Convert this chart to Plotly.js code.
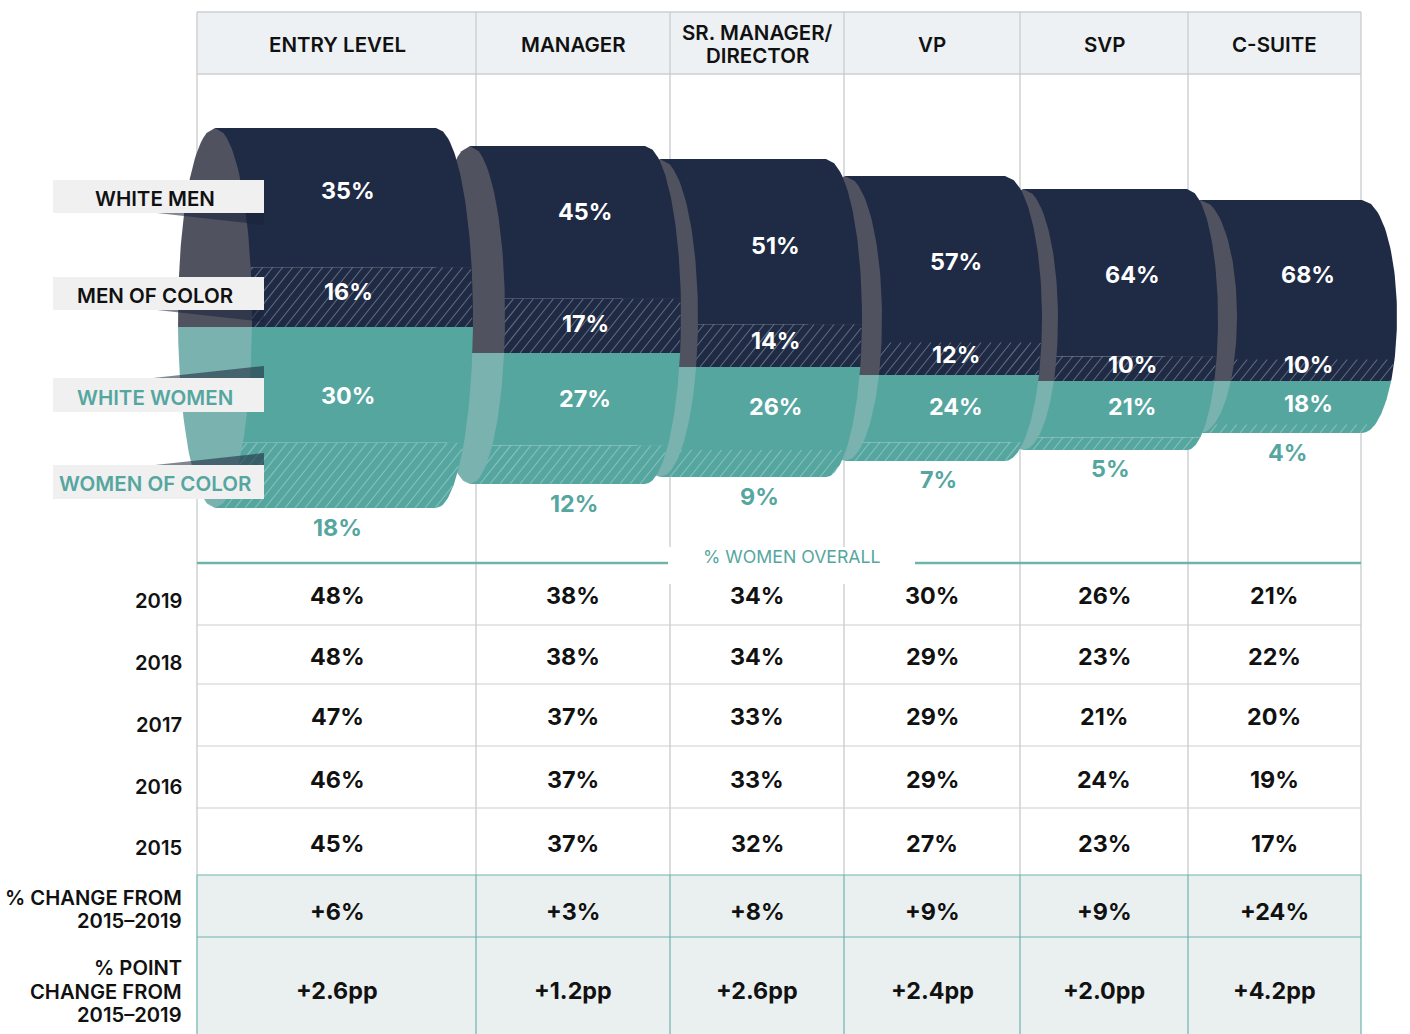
<!DOCTYPE html>
<html>
<head>
<meta charset="utf-8">
<script src="https://cdn.plot.ly/plotly-3.0.1.min.js"></script>
<style>html,body{margin:0;padding:0;background:#fff}#chart{width:1410px;height:1034px}</style>
</head>
<body>
<div id="chart"></div>
<script>
// ---- values ----
const stages = ['ENTRY LEVEL','MANAGER','SR. MANAGER/<br>DIRECTOR','VP','SVP','C-SUITE'];
const whiteMen     = [35,45,51,57,64,68];
const menOfColor   = [16,17,14,12,10,10];
const whiteWomen   = [30,27,26,24,21,18];
const womenOfColor = [18,12, 9, 7, 5, 4];
const rowYears = ['2019','2018','2017','2016','2015'];
const women2019 = [48,38,34,30,26,21];
const women2018 = [48,38,34,29,23,22];
const women2017 = [47,37,33,29,21,20];
const women2016 = [46,37,33,29,24,19];
const women2015 = [45,37,32,27,23,17];
const changePct = [6,3,8,9,9,24];
const changePP  = [2.6,1.2,2.6,2.4,2.0,4.2];
const groupNames = ['WHITE MEN','MEN OF COLOR','WHITE WOMEN','WOMEN OF COLOR'];

// ---- layout of the drawing (axis units equal page pixels) ----
const gridX = [197,476,670,844,1020,1188,1361];
const colX  = [337,573,757,932,1104,1274];
const cyl = [
  {cL:215, cR:436, rL:37, rR:37, top:128, split:327, bot:508},
  {cL:470, cR:645, rL:35, rR:36, top:146, split:353, bot:484},
  {cL:660, cR:826, rL:38, rR:36, top:159, split:367, bot:477},
  {cL:845, cR:1005,rL:37, rR:37, top:176, split:375, bot:461},
  {cL:1023,cR:1187,rL:35, rR:31, top:189, split:381, bot:450},
  {cL:1200,cR:1362,rL:37, rR:35, top:200, split:381, bot:433}
];
const innerX = [348,585,775,956,1132,1308];
const outerX = [337,574,759,938,1110,1287];
const labelWM = [190,211,245,261,274,274];
const labelMC = [291,323,340,354,364,364];
const labelWW = [395,398,406,406,406,403];
const labelWC = [527,503,496,479,468,452];
const rowValueY = [595,656,716,779,843];
const rowLabelY = [600,662,724,786,847];
const rowLines  = [625,684,746,808];
const hatchWeight = 0.94;  // hatched bands are drawn slightly flatter than the solid ones

const NAVY='#1f2a45', NAVY_CAP='#50535f', TEAL='#56a6a0', TEAL_CAP='#79b2af';
const GRID='#cdced0', TEALLINE='#6fb3ad';
const FONT='Inter, "Open Sans", sans-serif';

function edge(c, r, cy, ry, y){
  const t = (y-cy)/ry;
  return c + r*Math.sqrt(Math.max(0,1-t*t));
}
function sampleYs(y0,y1){
  const n=40, ys=[];
  for(let i=0;i<=n;i++) ys.push(y0+(y1-y0)*i/n);
  return ys;
}
function bodyTrace(g,y0,y1,color){
  const cy=(g.top+g.bot)/2, ry=(g.bot-g.top)/2, ys=sampleYs(y0,y1);
  const xs=[g.cL], yy=[y0];
  ys.forEach(y=>{xs.push(edge(g.cR,g.rR,cy,ry,y)); yy.push(y);});
  xs.push(g.cL); yy.push(y1); xs.push(g.cL); yy.push(y0);
  return {x:xs,y:yy,type:'scatter',mode:'lines',line:{width:0},fill:'toself',fillcolor:color,
          hoverinfo:'skip',showlegend:false};
}
function hatchTrace(g,y0,y1,color){
  const cy=(g.top+g.bot)/2, ry=(g.bot-g.top)/2, slope=1.25, step=10;
  const xs=[],yy=[];
  for(let k=g.cL-80;k<g.cR+g.rR;k+=step){
    let first=null,last=null;
    for(let y=y1;y>=y0;y-=0.5){
      const x=k+(y1-y)/slope;
      if(x>=g.cL && x<=edge(g.cR,g.rR,cy,ry,y)-0.5){
        if(!first) first=[x,y];
        last=[x,y];
      }
    }
    if(first&&last){xs.push(first[0],last[0],null);yy.push(first[1],last[1],null);}
  }
  return {x:xs,y:yy,type:'scatter',mode:'lines',line:{width:1.15,color},hoverinfo:'skip',showlegend:false};
}
function capTrace(g,y0,y1,color){
  const cy=(g.top+g.bot)/2, ry=(g.bot-g.top)/2, ys=sampleYs(y0,y1);
  const xs=[],yy=[];
  ys.forEach(y=>{xs.push(edge(g.cL,g.rL,cy,ry,y)); yy.push(y);});
  ys.slice().reverse().forEach(y=>{xs.push(2*g.cL-edge(g.cL,g.rL,cy,ry,y)); yy.push(y);});
  xs.push(xs[0]); yy.push(yy[0]);
  return {x:xs,y:yy,type:'scatter',mode:'lines',line:{width:0},fill:'toself',fillcolor:color,
          hoverinfo:'skip',showlegend:false};
}

const traces=[];
for(let i=stages.length-1;i>=0;i--){
  const g=cyl[i];
  const sMen=(g.split-g.top)/(whiteMen[i]+hatchWeight*menOfColor[i]);
  const sWom=(g.bot-g.split)/(whiteWomen[i]+hatchWeight*womenOfColor[i]);
  const y1=g.top+whiteMen[i]*sMen;
  const y3=g.split+whiteWomen[i]*sWom;
  traces.push(bodyTrace(g,g.top,y1,NAVY));
  traces.push(bodyTrace(g,y1,g.split,NAVY));
  traces.push(hatchTrace(g,y1,g.split,'rgba(255,255,255,0.3)'));
  traces.push(bodyTrace(g,g.split,y3,TEAL));
  traces.push(bodyTrace(g,y3,g.bot,TEAL));
  traces.push(hatchTrace(g,y3,g.bot,'rgba(255,255,255,0.3)'));
  traces.push(capTrace(g,g.top,g.split,NAVY_CAP));
  traces.push(capTrace(g,g.split,g.bot,TEAL_CAP));
}

const shapes=[];
function rect(x0,y0,x1,y1,fill,layer){shapes.push({type:'rect',xref:'x',yref:'y',x0,y0,x1,y1,fillcolor:fill,line:{width:0},layer:layer||'below'});}
function line(x0,y0,x1,y1,color,w,layer){shapes.push({type:'line',xref:'x',yref:'y',x0,y0,x1,y1,line:{color,width:w||1},layer:layer||'below'});}
function tri(pts,fill){
  shapes.push({type:'path',xref:'x',yref:'y',path:'M'+pts.map(p=>p.join(',')).join('L')+'Z',fillcolor:fill,line:{width:0},layer:'above'});
}
rect(197,12,1361,74,'#eef1f4');
rect(197,875,1361,1034,'#eaefef');
gridX.forEach(x=>{ line(x,12,x,875,GRID,1.4); line(x,875,x,1034,TEALLINE,1.2); });
line(197,12,1361,12,GRID,1.4);
line(197,74,1361,74,GRID,1.4);
rowLines.forEach(y=>line(197,y,1361,y,GRID,1.2));
line(197,875,1361,875,TEALLINE,1.2);
line(197,937,1361,937,TEALLINE,1.2);
rect(668,547,915,584,'#ffffff');
line(197,563,668,563,TEALLINE,2.5);
line(915,563,1361,563,TEALLINE,2.5);

const tagBoxes=[[180,213],[277,310],[378,412],[465,499]];
tagBoxes.forEach(b=>rect(53,b[0],264,b[1],'#f0f0f1','above'));
const WEDGE='rgba(26,34,58,0.55)';
tri([[157,213],[264,225],[264,213]],WEDGE);
tri([[157,310],[264,322],[264,310]],WEDGE);
tri([[153,378],[264,366],[264,378]],WEDGE);
tri([[155,465],[264,453],[264,465]],WEDGE);

const ann=[];
function txt(x,y,text,size,color,weight,anchor){
  // multi-line text is split so the line gap matches the reference
  const parts=text.split('<br>'), gap=23.7;
  parts.forEach((p,k)=>{
    ann.push({xref:'x',yref:'y',x,y:y+(k-(parts.length-1)/2)*gap,text:p,showarrow:false,
      xanchor:anchor||'center',yanchor:'middle',align:anchor==='right'?'right':'center',
      font:{family:FONT,size,color,weight:weight||400}});
  });
}
stages.forEach((s,i)=>txt(colX[i],44,s,20.5,'#111',600));
const pct=v=>v+'%';
stages.forEach((s,i)=>{
  txt(innerX[i],labelWM[i],pct(whiteMen[i]),23.3,'#fff',700);
  txt(innerX[i],labelMC[i],pct(menOfColor[i]),23.3,'#fff',700);
  txt(innerX[i],labelWW[i],pct(whiteWomen[i]),23.3,'#fff',700);
  txt(outerX[i],labelWC[i],pct(womenOfColor[i]),23.3,TEAL,700);
});
groupNames.forEach((n,i)=>txt(155,[198,295,397,483][i],n,20.5,i<2?'#111':TEAL,600));
txt(792,556,'% WOMEN OVERALL',17.7,TEAL,400);
[women2019,women2018,women2017,women2016,women2015].forEach((arr,r)=>{
  txt(184,rowLabelY[r],rowYears[r],20.2,'#111',600,'right');
  arr.forEach((v,i)=>txt(colX[i],rowValueY[r],pct(v),23.3,'#111',700));
});
txt(184,909,'% CHANGE FROM<br>2015–2019',20.2,'#111',600,'right');
txt(184,991,'% POINT<br>CHANGE FROM<br>2015–2019',20.2,'#111',600,'right');
changePct.forEach((v,i)=>txt(colX[i],911,'+'+v+'%',23.3,'#111',700));
changePP.forEach((v,i)=>txt(colX[i],990,'+'+v.toFixed(1)+'pp',23.3,'#111',700));

Plotly.newPlot('chart',traces,{
  width:1410,height:1034,margin:{l:0,r:0,t:0,b:0},paper_bgcolor:'#fff',plot_bgcolor:'#fff',
  xaxis:{range:[0,1410],visible:false,fixedrange:true},
  yaxis:{range:[1034,0],visible:false,fixedrange:true},
  shapes,annotations:ann,showlegend:false,hovermode:false
},{displayModeBar:false,staticPlot:true});
</script>
</body>
</html>
